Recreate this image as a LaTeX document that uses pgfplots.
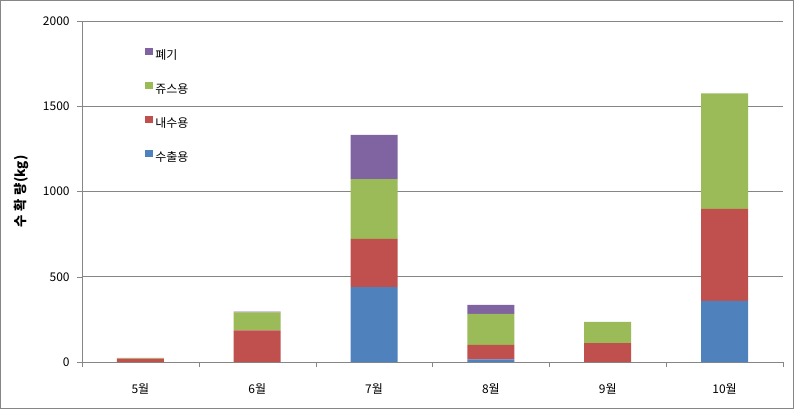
\documentclass[border=0pt]{standalone}
\usepackage{pgfplots}
\pgfplotsset{compat=1.18}
\usepackage{fontspec}
\setmainfont{Noto Sans CJK KR}
\definecolor{cblue}{HTML}{4F81BD}
\definecolor{cred}{HTML}{C0504D}
\definecolor{cgreen}{HTML}{9BBB59}
\definecolor{cpurple}{HTML}{8064A2}
\definecolor{cgrid}{HTML}{868686}
\begin{document}
\begin{tikzpicture}[x=1pt,y=1pt]
\begin{axis}[
  name=ax,
  scale only axis,
  width=525.75pt, height=255.75pt,
  ybar stacked,
  bar width=35.25pt,
  xmin=-0.5, xmax=5.5,
  ymin=0, ymax=2000,
  ytick={0,500,...,2000},
  xtick={0,1,2,3,4,5},
  xticklabels={5월,6월,7월,8월,9월,10월},
  minor xtick={-0.5,0.5,1.5,2.5,3.5,4.5,5.5},
  major x tick style={draw=none},
  minor x tick style={cgrid},
  y tick style={cgrid},
  tick align=outside,
  major tick length=3.75pt,
  minor tick length=3.75pt,
  axis lines*=left,
  axis line style={cgrid},
  ymajorgrids,
  grid style={cgrid, line width=0.6pt},
  /pgf/number format/assume math mode=true,
  /pgf/number format/1000 sep={},
  tick label style={font=\fontsize{9}{10}\selectfont},
  xticklabel style={yshift=-9pt},
  yticklabel style={xshift=-2pt},
  ylabel={\textbf{수\hspace{0.3em}확\hspace{0.3em}량(kg)}},
  ylabel style={font=\fontsize{9}{10}\selectfont},
  every axis y label/.style={at={(rel axis cs:0,0.5)}, rotate=90, anchor=center, yshift=45.75pt},
  legend style={at={(rel axis cs:0.09,0.925)}, anchor=north west, draw=none, fill=none,
    font=\fontsize{9}{10}\selectfont, row sep=12.6pt, inner sep=0pt},
  legend cell align=left,
  reverse legend,
  legend image code/.code={\fill[#1] (0pt,0pt) rectangle (5.5pt,5.5pt);},
  clip=false,
]
\addplot[fill=cblue, draw=none] coordinates {(0,0) (1,0) (2,440) (3,15) (4,0) (5,358)};
\addplot[fill=cred, draw=none] coordinates {(0,20) (1,185) (2,282) (3,85) (4,111) (5,541)};
\addplot[fill=cgreen, draw=none] coordinates {(0,5) (1,106) (2,351) (3,182) (4,124) (5,677)};
\addplot[fill=cpurple, draw=none] coordinates {(0,0) (1,5) (2,260) (3,53) (4,0) (5,0)};
\legend{수출용,내수용,쥬스용,폐기}
\end{axis}
\draw[cgrid, line width=0.75pt] ([shift={(-61.1pt,-34.9pt)}]ax.south west) rectangle ([shift={(7.9pt,15.4pt)}]ax.north east);
\end{tikzpicture}
\end{document}
